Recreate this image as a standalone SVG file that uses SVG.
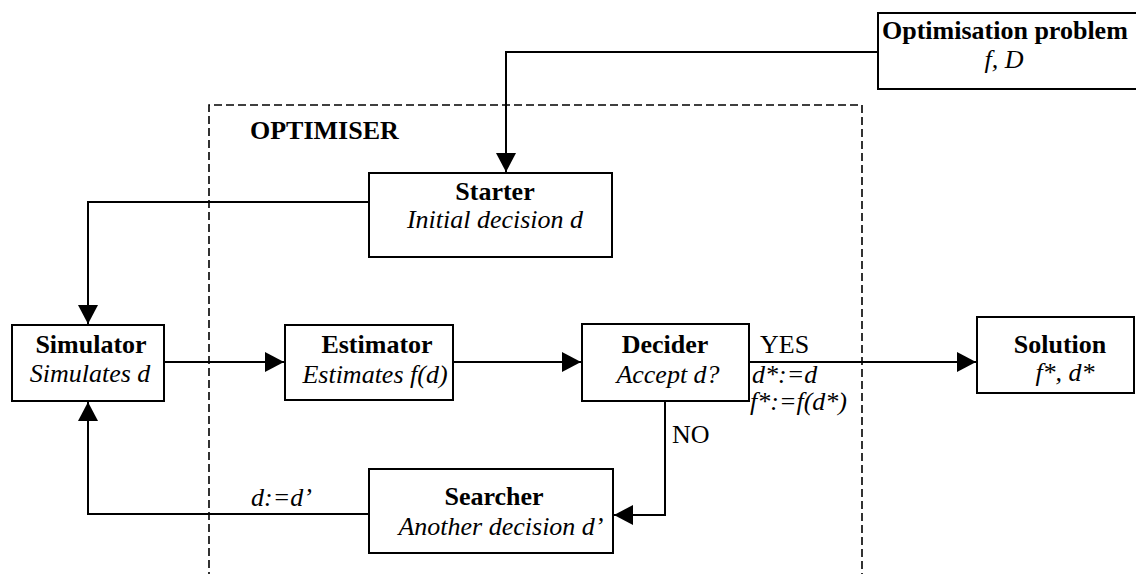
<svg xmlns="http://www.w3.org/2000/svg" width="1136" height="574" viewBox="0 0 1136 574">
<style>
.box{fill:#fff;stroke:#000;stroke-width:2}
.ln{fill:none;stroke:#000;stroke-width:2}
.dash{fill:none;stroke:#000;stroke-width:1.6;stroke-dasharray:8 4}
text{font-family:"Liberation Serif","Times New Roman",serif;font-size:26px;fill:#000}
.b{font-weight:bold}
.i{font-style:italic}
.m{text-anchor:middle}
</style>
<defs>
<marker id="ah" viewBox="0 0 19 20" refX="19" refY="10" markerWidth="19" markerHeight="20" markerUnits="userSpaceOnUse" orient="auto">
<path d="M0,0 L19,10 L0,20 Z" fill="#000"/>
</marker>
</defs>
<rect width="1136" height="574" fill="#fff"/>
<g id="optimiser">
<path class="dash" d="M209,580 V105 H862 V580"/>
<text class="b" x="250" y="139">OPTIMISER</text>
</g>
<g id="connectors">
<path class="ln" d="M878,52 H506 V172" marker-end="url(#ah)"/>
<path class="ln" d="M369,202 H88 V324" marker-end="url(#ah)"/>
<path class="ln" d="M164,362 H284" marker-end="url(#ah)"/>
<path class="ln" d="M453,362 H581" marker-end="url(#ah)"/>
<path class="ln" d="M749,362 H976" marker-end="url(#ah)"/>
<path class="ln" d="M665,401 V515 H614" marker-end="url(#ah)"/>
<path class="ln" d="M369,514 H88 V402" marker-end="url(#ah)"/>
<text x="760" y="353">YES</text>
<text class="i" x="752" y="383">d*:=d</text>
<text class="i" x="750" y="410">f*:=f(d*)</text>
<text x="672" y="443">NO</text>
<text class="i" x="251" y="506">d:=d’</text>
</g>
<g id="problem">
<rect class="box" x="878" y="13" width="280" height="76"/>
<text class="b" x="882" y="39">Optimisation problem</text>
<text class="i m" x="1004" y="68">f, D</text>
</g>
<g id="starter">
<rect class="box" x="369" y="173" width="243" height="84"/>
<text class="b m" x="495" y="200">Starter</text>
<text class="i m" x="495" y="228">Initial decision d</text>
</g>
<g id="simulator">
<rect class="box" x="12" y="325" width="152" height="76"/>
<text class="b m" x="91" y="353">Simulator</text>
<text class="i m" x="90" y="382">Simulates d</text>
</g>
<g id="estimator">
<rect class="box" x="285" y="325" width="168" height="75"/>
<text class="b m" x="377" y="353">Estimator</text>
<text class="i m" x="375" y="383">Estimates f(d)</text>
</g>
<g id="decider">
<rect class="box" x="582" y="324" width="167" height="77"/>
<text class="b m" x="665" y="353">Decider</text>
<text class="i m" x="668" y="383">Accept d?</text>
</g>
<g id="searcher">
<rect class="box" x="369" y="469" width="244" height="84"/>
<text class="b m" x="494" y="505">Searcher</text>
<text class="i m" x="501" y="535">Another decision d’</text>
</g>
<g id="solution">
<rect class="box" x="977" y="317" width="157" height="76"/>
<text class="b m" x="1060" y="353">Solution</text>
<text class="i m" x="1065" y="381">f*, d*</text>
</g>
</svg>
